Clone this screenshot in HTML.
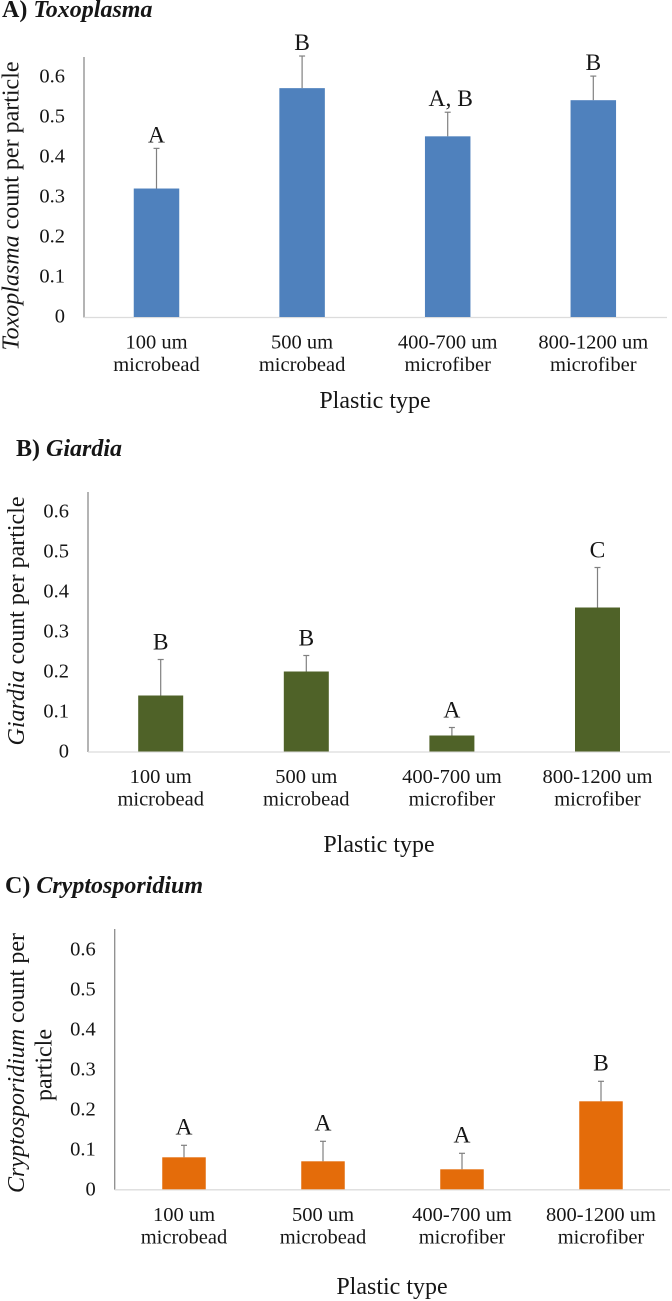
<!DOCTYPE html>
<html lang="en">
<head>
<meta charset="utf-8">
<title>Parasite count per plastic particle</title>
<style>
  html, body { margin: 0; padding: 0; background: #fff; }
  body { width: 672px; height: 1301px; overflow: hidden; }
  svg { display: block; }
  text { font-family: "Liberation Serif", serif; fill: #161616; }
</style>
</head>
<body>
<svg id="figure" xmlns="http://www.w3.org/2000/svg" width="672" height="1301" viewBox="0 0 672 1301"></svg>
<script>
const categoryFirstLines = ['100 um', '500 um', '400-700 um', '800-1200 um'];
const categorySecondLines = ['microbead', 'microbead', 'microfiber', 'microfiber'];
const tickValues = [0, 0.1, 0.2, 0.3, 0.4, 0.5, 0.6];
const tickLabels = ['0', '0.1', '0.2', '0.3', '0.4', '0.5', '0.6'];

const toxoplasmaMeans = [0.32, 0.57, 0.45, 0.54];
const toxoplasmaErrors = [0.10, 0.08, 0.06, 0.06];
const toxoplasmaLetters = ['A', 'B', 'A, B', 'B'];

const giardiaMeans = [0.14, 0.20, 0.04, 0.36];
const giardiaErrors = [0.09, 0.04, 0.02, 0.10];
const giardiaLetters = ['B', 'B', 'A', 'C'];

const cryptoMeans = [0.08, 0.07, 0.05, 0.22];
const cryptoErrors = [0.03, 0.05, 0.04, 0.05];
const cryptoLetters = ['A', 'A', 'A', 'B'];

const svg = document.getElementById('figure');
const NS = 'http://www.w3.org/2000/svg';

function make(tag, attrs, text) {
  const el = document.createElementNS(NS, tag);
  for (const k in attrs) el.setAttribute(k, attrs[k]);
  if (text !== undefined) el.textContent = text;
  return el;
}

function addSpan(parent, text, style, weight) {
  const s = make('tspan', { 'font-style': style, 'font-weight': weight }, text);
  parent.appendChild(s);
}

function drawPanel(p) {
  const group = make('g', {});
  
  
  svg.appendChild(group);

  const yScale = v => p.y0 - v * p.unit;
  const xScale = i => p.x0 + i * p.step;

  const title = make('text', { x: p.titleX, y: p.titleY, 'font-size': 24 });
  
  
  addSpan(title, p.prefix + ' ', 'normal', 'bold');
  addSpan(title, p.name, 'italic', 'bold');
  group.appendChild(title);

  const yAxis = make('line', { x1: p.axisX, x2: p.axisX, y1: p.axisTop, y2: p.y0 + 0.5, stroke: '#8c8c8c', 'stroke-width': 1.3 });
  
  
  group.appendChild(yAxis);

  const xAxis = make('line', { x1: p.axisX, x2: p.axisEnd, y1: p.y0 + 0.5, y2: p.y0 + 0.5, stroke: '#dcdcdc', 'stroke-width': 1.3 });
  
  
  group.appendChild(xAxis);

  tickValues.forEach((v, i) => {
    const t = make('text', { x: p.axisX - 19, y: p.tickY0 - v * p.tickUnit + 6.5, 'font-size': 20.5, 'text-anchor': 'end' }, tickLabels[i]);
    
    
    group.appendChild(t);
  });

  p.means.forEach((m, i) => {
    const cx = xScale(i);
    const errTop = yScale(m + p.errors[i]);

    const stem = make('line', { x1: cx, x2: cx, y1: errTop, y2: yScale(m), stroke: '#808080', 'stroke-width': 1.2 });
    
    
    group.appendChild(stem);

    const cap = make('line', { x1: cx - 3, x2: cx + 3, y1: errTop, y2: errTop, stroke: '#808080', 'stroke-width': 1.2 });
    
    
    group.appendChild(cap);

    const bar = make('rect', { x: cx - p.barW / 2, y: yScale(m), width: p.barW, height: m * p.unit, fill: p.color });
    
    
    group.appendChild(bar);

    const letterX = p.letters[i].length > 1 ? cx + 3 : cx;
    const letter = make('text', { x: letterX, y: errTop - p.letterGap, 'font-size': 23.5, 'text-anchor': 'middle' }, p.letters[i]);
    
    
    group.appendChild(letter);

    const line1 = make('text', { x: cx, y: p.y0 + 31.5, 'font-size': 20.5, 'text-anchor': 'middle' }, categoryFirstLines[i]);
    
    
    group.appendChild(line1);

    const line2 = make('text', { x: cx, y: p.y0 + 54, 'font-size': 20.5, 'text-anchor': 'middle' }, categorySecondLines[i]);
    
    
    group.appendChild(line2);
  });

  const xTitle = make('text', { x: p.xTitleX, y: p.xTitleY, 'font-size': 24, 'text-anchor': 'middle' }, 'Plastic type');
  
  
  group.appendChild(xTitle);

  const yTitle = make('text', { 'font-size': 24, 'text-anchor': 'middle', transform: 'translate(' + p.yTitleX + ' ' + p.yTitleY + ') rotate(-90)' });
  
  
  addSpan(yTitle, p.name, 'italic', 'normal');
  addSpan(yTitle, p.yRest, 'normal', 'normal');
  group.appendChild(yTitle);

  if (p.yExtra) {
    const extra = make('text', { 'font-size': 24, 'text-anchor': 'middle', transform: 'translate(' + p.yExtraX + ' ' + p.yExtraY + ') rotate(-90)' }, p.yExtra);
    
    
    group.appendChild(extra);
  }
}

drawPanel({
  key: 'toxoplasma', prefix: 'A)', name: 'Toxoplasma', yRest: ' count per particle',
  means: toxoplasmaMeans, errors: toxoplasmaErrors, letters: toxoplasmaLetters,
  color: '#4f81bd', titleX: 2, titleY: 17,
  axisX: 84, axisEnd: 667, axisTop: 57, y0: 317, unit: 401.5, tickY0: 316, tickUnit: 400,
  x0: 156.5, step: 145.6, barW: 45.5, letterGap: 6,
  xTitleX: 375, xTitleY: 408, yTitleX: 18.5, yTitleY: 206
});

drawPanel({
  key: 'giardia', prefix: 'B)', name: 'Giardia', yRest: ' count per particle',
  means: giardiaMeans, errors: giardiaErrors, letters: giardiaLetters,
  color: '#4f6228', titleX: 16, titleY: 456,
  axisX: 88, axisEnd: 670, axisTop: 492, y0: 751.5, unit: 400, tickY0: 751, tickUnit: 400,
  x0: 160.7, step: 145.6, barW: 45, letterGap: 10,
  xTitleX: 379, xTitleY: 852, yTitleX: 24, yTitleY: 621
});

drawPanel({
  key: 'cryptosporidium', prefix: 'C)', name: 'Cryptosporidium', yRest: ' count per',
  yExtra: 'particle', yExtraX: 51.5, yExtraY: 1065,
  means: cryptoMeans, errors: cryptoErrors, letters: cryptoLetters,
  color: '#e46c0a', titleX: 5, titleY: 893,
  axisX: 114.7, axisEnd: 670, axisTop: 929, y0: 1189.3, unit: 400, tickY0: 1189, tickUnit: 400,
  x0: 184, step: 139, barW: 43.5, letterGap: 11,
  xTitleX: 392, xTitleY: 1294, yTitleX: 24, yTitleY: 1063
});
</script>
</body>
</html>
